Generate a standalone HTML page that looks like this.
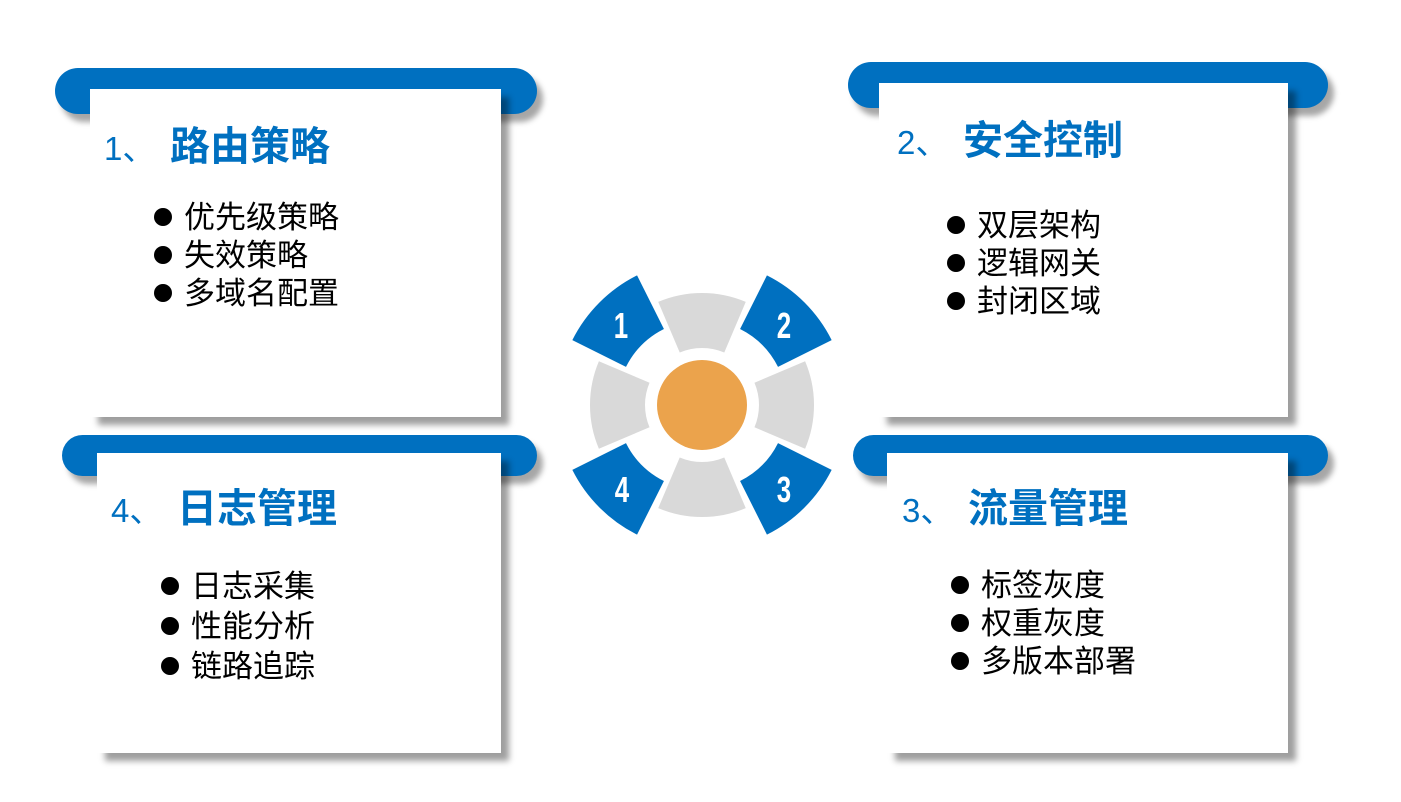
<!DOCTYPE html>
<html><head><meta charset="utf-8"><style>
body{margin:0;width:1401px;height:802px;background:#fff;position:relative;overflow:hidden;font-family:"Liberation Sans","Noto Sans CJK SC",sans-serif}
.pill{position:absolute;background:#0070c0;border-radius:24px;box-shadow:6px 8px 6px rgba(0,0,0,.35)}
.card{position:absolute;background:#fff;box-shadow:8px 8px 6px rgba(0,0,0,.38)}
.t{position:absolute;color:#0070c0;white-space:nowrap;line-height:1}
.t .n{font-size:33px;display:inline-block;width:66px}
.t b{font-size:40px;font-weight:bold}
.ul{position:absolute;font-size:31px;line-height:38px;color:#000;white-space:nowrap}
.ul div:before{content:"";display:inline-block;width:18px;height:18px;border-radius:50%;background:#000;margin-right:12px;vertical-align:2px}
</style></head><body>
<div class="pill" style="left:55px;top:68px;width:482px;height:46px"></div>
<div class="card" style="left:90px;top:89px;width:411px;height:328px"></div>
<div class="pill" style="left:848px;top:62px;width:480px;height:46px"></div>
<div class="card" style="left:879px;top:83px;width:409px;height:334px"></div>
<div class="pill" style="left:62px;top:435px;width:475px;height:41px"></div>
<div class="card" style="left:97px;top:453px;width:404px;height:300px"></div>
<div class="pill" style="left:853px;top:435px;width:475px;height:41px"></div>
<div class="card" style="left:887px;top:453px;width:401px;height:300px"></div>

<div class="t" style="left:104px;top:127px"><span class="n">1、</span><b>路由策略</b></div>
<div class="ul" style="left:154px;top:199px"><div>优先级策略</div><div>失效策略</div><div>多域名配置</div></div>

<div class="t" style="left:897px;top:121px"><span class="n">2、</span><b>安全控制</b></div>
<div class="ul" style="left:947px;top:207px"><div>双层架构</div><div>逻辑网关</div><div>封闭区域</div></div>

<div class="t" style="left:111px;top:489px"><span class="n">4、</span><b>日志管理</b></div>
<div class="ul" style="left:161px;top:567px;line-height:40px"><div>日志采集</div><div>性能分析</div><div>链路追踪</div></div>

<div class="t" style="left:902px;top:489px"><span class="n">3、</span><b>流量管理</b></div>
<div class="ul" style="left:951px;top:567px;line-height:38px"><div>标签灰度</div><div>权重灰度</div><div>多版本部署</div></div>

<svg style="position:absolute;left:0;top:0" width="1401" height="802">
<defs>
<path id="g" d="M52.47,-22.27 L103.1,-43.76 A112,112 0 0 1 103.1,43.76 L52.47,22.27 A57,57 0 0 0 52.47,-22.27Z" fill="#d9d9d9"/>
<path id="b" d="M80.66,-26.83 L137.6,-45.77 A145,145 0 0 1 137.6,45.77 L80.66,26.83 A85,85 0 0 0 80.66,-26.83Z" fill="#0070c0"/>
</defs>
<g transform="translate(702,405)">
<use href="#g"/><use href="#g" transform="rotate(90)"/><use href="#g" transform="rotate(180)"/><use href="#g" transform="rotate(270)"/>
<use href="#b" transform="rotate(-45)"/><use href="#b" transform="rotate(-135)"/><use href="#b" transform="rotate(135)"/><use href="#b" transform="rotate(45)"/>
<circle r="45" fill="#eba34c"/>
</g>
<g font-family="Liberation Sans" font-weight="bold" font-size="36" fill="#fff" text-anchor="middle">
<text transform="translate(621,338) scale(0.72,1)">1</text>
<text transform="translate(784,338) scale(0.72,1)">2</text>
<text transform="translate(784,502) scale(0.72,1)">3</text>
<text transform="translate(622,502) scale(0.72,1)">4</text>
</g>
</svg>
</body></html>
